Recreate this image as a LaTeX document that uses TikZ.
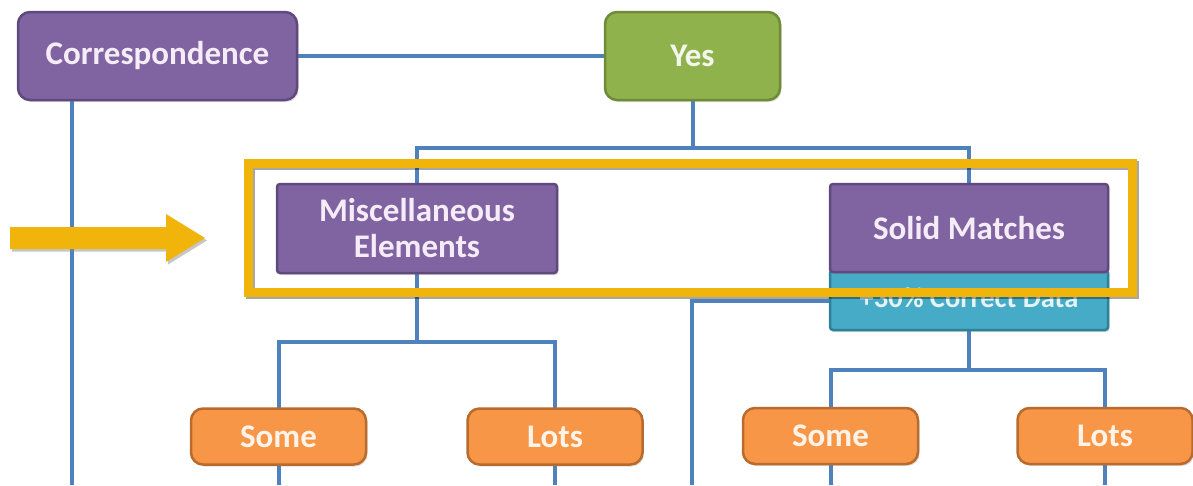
\documentclass[tikz,border=0pt]{standalone}
\usepackage{fontspec}
\setmainfont{Carlito}
\usetikzlibrary{shadows,calc}
\definecolor{linkblue}{HTML}{4F81BD}
\definecolor{purplefill}{HTML}{8064A2}
\definecolor{purpleedge}{HTML}{5E4A7C}
\definecolor{greenfill}{HTML}{8FB24C}
\definecolor{greenedge}{HTML}{6F8B3A}
\definecolor{orangefill}{HTML}{F79646}
\definecolor{orangeedge}{HTML}{B96B2E}
\definecolor{tealfill}{HTML}{45ABC6}
\definecolor{tealedge}{HTML}{2E8198}
\definecolor{gold}{HTML}{F0B40A}
\definecolor{paletext}{HTML}{F6ECF8}
\tikzset{
  box/.style={draw, line width=2.5pt, inner sep=0pt, align=center,
    text=paletext, font=\fontsize{33}{36}\selectfont\bfseries,
    drop shadow={opacity=0.25, shadow xshift=1.5pt, shadow yshift=-2pt}},
  roundbox/.style={box, rounded corners=12pt},
  flatbox/.style={box, rounded corners=3pt},
  purplebox/.style={fill=purplefill, draw=purpleedge},
  greenbox/.style={fill=greenfill, draw=greenedge, text=white!90!greenfill},
  orangebox/.style={roundbox, fill=orangefill, draw=orangeedge,
    text=white!88!orangefill, minimum width=175pt, minimum height=56pt},
  link/.style={draw=linkblue, line width=4pt},
  highlight/.style={draw=gold, line width=9pt},
  highlightshadow/.style={draw=black, opacity=0.35, line width=9pt},
}
\begin{document}
\begin{tikzpicture}[x=1pt,y=-1pt]
\useasboundingbox (0,0) rectangle (1193,485);

% connector end points at the lower edge and junctions
\coordinate (cbot) at (72,485);
\coordinate (tbot) at (692,485);
\coordinate (yj) at (692.5,148);
\coordinate (mj) at (417,342);
\coordinate (sj) at (969,370);

% blue connectors (behind the boxes)
\draw[link] (cbot |- 0,98) -- (cbot);
\draw[link] (692.5,98) -- (yj);
\draw[link] (417,185) |- (yj) -| (969,185);
\draw[link] (417,272) -- (mj);
\draw[link] (278.5,410) |- (mj) -| (555,410);
\draw[link] (969,328) -- (sj);
\draw[link] (830.5,410) |- (sj) -| (1105,410);
\draw[link] (832,301) -| (tbot);
\draw[link] (278.5,462) -- (278.5,485);
\draw[link] (555,462) -- (555,485);
\draw[link] (830.5,462) -- (830.5,485);
\draw[link] (1105,462) -- (1105,485);
\draw[link] (296,56) -- (606,56);

% top row
\node[roundbox, purplebox, minimum width=279pt, minimum height=88pt]
  (corr) at (157.5,56) {Correspondence};
\node[roundbox, greenbox, minimum width=175pt, minimum height=88pt]
  (yes) at (692.5,56) {Yes};

% middle row
\node[flatbox, fill=tealfill, draw=tealedge, minimum width=278pt, minimum height=60pt]
  (teal) at (969,300) {};
\node[anchor=base, text=white!85!tealfill, font=\fontsize{28.5}{30}\selectfont\bfseries]
  (tealtxt) at (969,307) {+30\% Correct Data};
\node[flatbox, purplebox, minimum width=280pt, minimum height=89pt]
  (misc) at (417,228.5) {Miscellaneous\\Elements};
\node[flatbox, purplebox, minimum width=278pt, minimum height=88pt]
  (solid) at (969,228) {Solid Matches};

% bottom row
\node[orangebox] (some1) at (278.5,436.5) {Some};
\node[orangebox] (lots1) at (555,436.5) {Lots};
\node[orangebox] (some2) at (830.5,436) {Some};
\node[orangebox] (lots2) at (1105,436) {Lots};

% highlight frame and pointer
\draw[highlightshadow] (250.5,165.5) rectangle (1134.5,294.5);
\node[highlight, minimum width=884pt, minimum height=129pt, inner sep=0pt]
  (frame) at (690,227.5) {};
\fill[gold, drop shadow={opacity=0.45, shadow xshift=2pt, shadow yshift=-2.5pt}]
  (10,227) -- (166,227) -- (166,214) -- (205,238) -- (166,262) -- (166,249)
  -- (10,249) -- cycle;
\end{tikzpicture}
\end{document}
